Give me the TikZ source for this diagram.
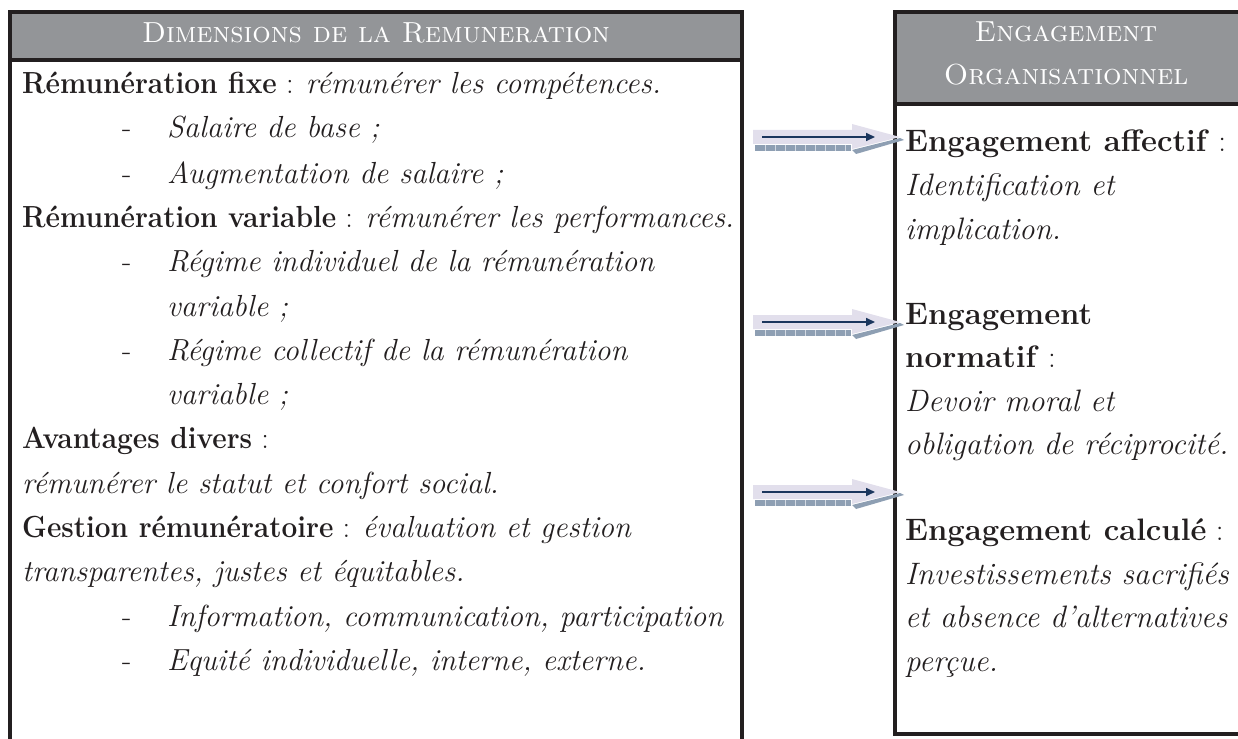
\documentclass[tikz,border=0pt]{standalone}
\usetikzlibrary{arrows.meta}
\definecolor{bord}{HTML}{231F20}
\definecolor{hdr}{HTML}{939598}
\definecolor{lav}{HTML}{E2DFEC}
\definecolor{navy}{HTML}{1B365D}
\definecolor{shad}{HTML}{8E9FB3}
\newcommand\lb[1]{\scalebox{0.92}[1]{\bfseries #1}}
\newcommand\fatarrow[2]{%
  \fill[shad] (755,#1+8) rectangle (851,#1+14);
  \foreach \xx in {765,775,...,845} \draw[shad!40, line width=0.6] (\xx,#1+8) -- (\xx,#1+14);
  \fill[shad] (852,#1+13) -- (900,#1+1) -- (904,#1+3) -- (856,#1+17) -- cycle;
  \fill[lav] (753,#1-7) -- (852,#1-7) -- (852,#1-13) -- (900,#1) -- (852,#1+12) -- (852,#1+7) -- (753,#1+7) -- cycle;
  \coordinate (#2s) at (762,#1);
  \coordinate (#2e) at (875,#1);
  \draw[navy, line width=1.6, -{Triangle[length=9,width=8]}] (#2s) -- (#2e);
}
\begin{document}
\begin{tikzpicture}[x=1pt,y=-1pt,
  txt/.style={anchor=base west, inner sep=0pt, font=\fontsize{31}{40}\selectfont, text=bord},
  ltxt/.style={txt, font=\fontsize{30.5}{40}\selectfont},
  hd/.style={anchor=base, inner sep=0pt, font=\fontsize{29}{34}\selectfont\scshape, text=white},
  box/.style={draw=bord, line width=4pt}]
\useasboundingbox (0,0) rectangle (1238,738);
% left box
\fill[hdr] (10,12) rectangle (742,60);
\draw[box] (10,742) -- (10,12) -- (742,12) -- (742,742);
\draw[box] (10,60) -- (742,60);
\node[hd] (lh) at (376,43) {Dimensions de la Remuneration};
% right box
\fill[hdr] (895,12) rectangle (1242,104);
\draw[box] (1242,12) -- (895,12) -- (895,734) -- (1242,734);
\draw[box] (895,104) -- (1242,104);
\node[hd] (rh1) at (1066,42) {Engagement};
\node[hd] (rh2) at (1066,85) {Organisationnel};
% left text
\def\dx{122}\def\tx{167}
\node[ltxt] (l1) at (22,94) {\lb{Rémunération fixe} : \textit{rémunérer les compétences.}};
\node[ltxt] (d2) at (\dx,138) {-};\node[ltxt] (l2) at (\tx,138) {\textit{Salaire de base ;}};
\node[ltxt] (d3) at (\dx,183) {-};\node[ltxt] (l3) at (\tx,183) {\textit{Augmentation de salaire ;}};
\node[ltxt] (l4) at (22,227) {\lb{Rémunération variable} : \textit{rémunérer les performances.}};
\node[ltxt] (d5) at (\dx,271) {-};\node[ltxt] (l5) at (\tx,271) {\textit{Régime individuel de la rémunération}};
\node[ltxt] (l6) at (\tx,316) {\textit{variable ;}};
\node[ltxt] (d7) at (\dx,360) {-};\node[ltxt] (l7) at (\tx,360) {\textit{Régime collectif de la rémunération}};
\node[ltxt] (l8) at (\tx,404) {\textit{variable ;}};
\node[ltxt] (l9) at (22,448) {\lb{Avantages divers} :};
\node[ltxt] (l10) at (22,493) {\textit{rémunérer le statut et confort social.}};
\node[ltxt] (l11) at (22,537) {\lb{Gestion rémunératoire} : \textit{évaluation et gestion}};
\node[ltxt] (l12) at (22,581) {\textit{transparentes, justes et équitables.}};
\node[ltxt] (d13) at (\dx,626) {-};\node[ltxt] (l13) at (\tx,626) {\textit{Information, communication, participation}};
\node[ltxt] (d14) at (\dx,670) {-};\node[ltxt] (l14) at (\tx,670) {\textit{Equité individuelle, interne, externe.}};
% right text
\node[txt] (r1) at (905,152) {\textbf{Engagement affectif} :};
\node[txt] (r2) at (905,195) {\textit{Identification et}};
\node[txt] (r3) at (905,239) {\textit{implication.}};
\node[txt] (r4) at (905,324) {\textbf{Engagement}};
\node[txt] (r5) at (905,367) {\textbf{normatif} :};
\node[txt] (r6) at (905,411) {\textit{Devoir moral et}};
\node[txt] (r7) at (905,454) {\textit{obligation de réciprocité.}};
\node[txt] (r8) at (905,540) {\textbf{Engagement calculé} :};
\node[txt] (r9) at (905,584) {\textit{Investissements sacrifiés}};
\node[txt] (r10) at (905,627) {\textit{et absence d’alternatives}};
\node[txt] (r11) at (905,671) {\textit{perçue.}};
% arrows
\fatarrow{137}{a1}
\fatarrow{322}{a2}
\fatarrow{492}{a3}
\end{tikzpicture}
\end{document}
